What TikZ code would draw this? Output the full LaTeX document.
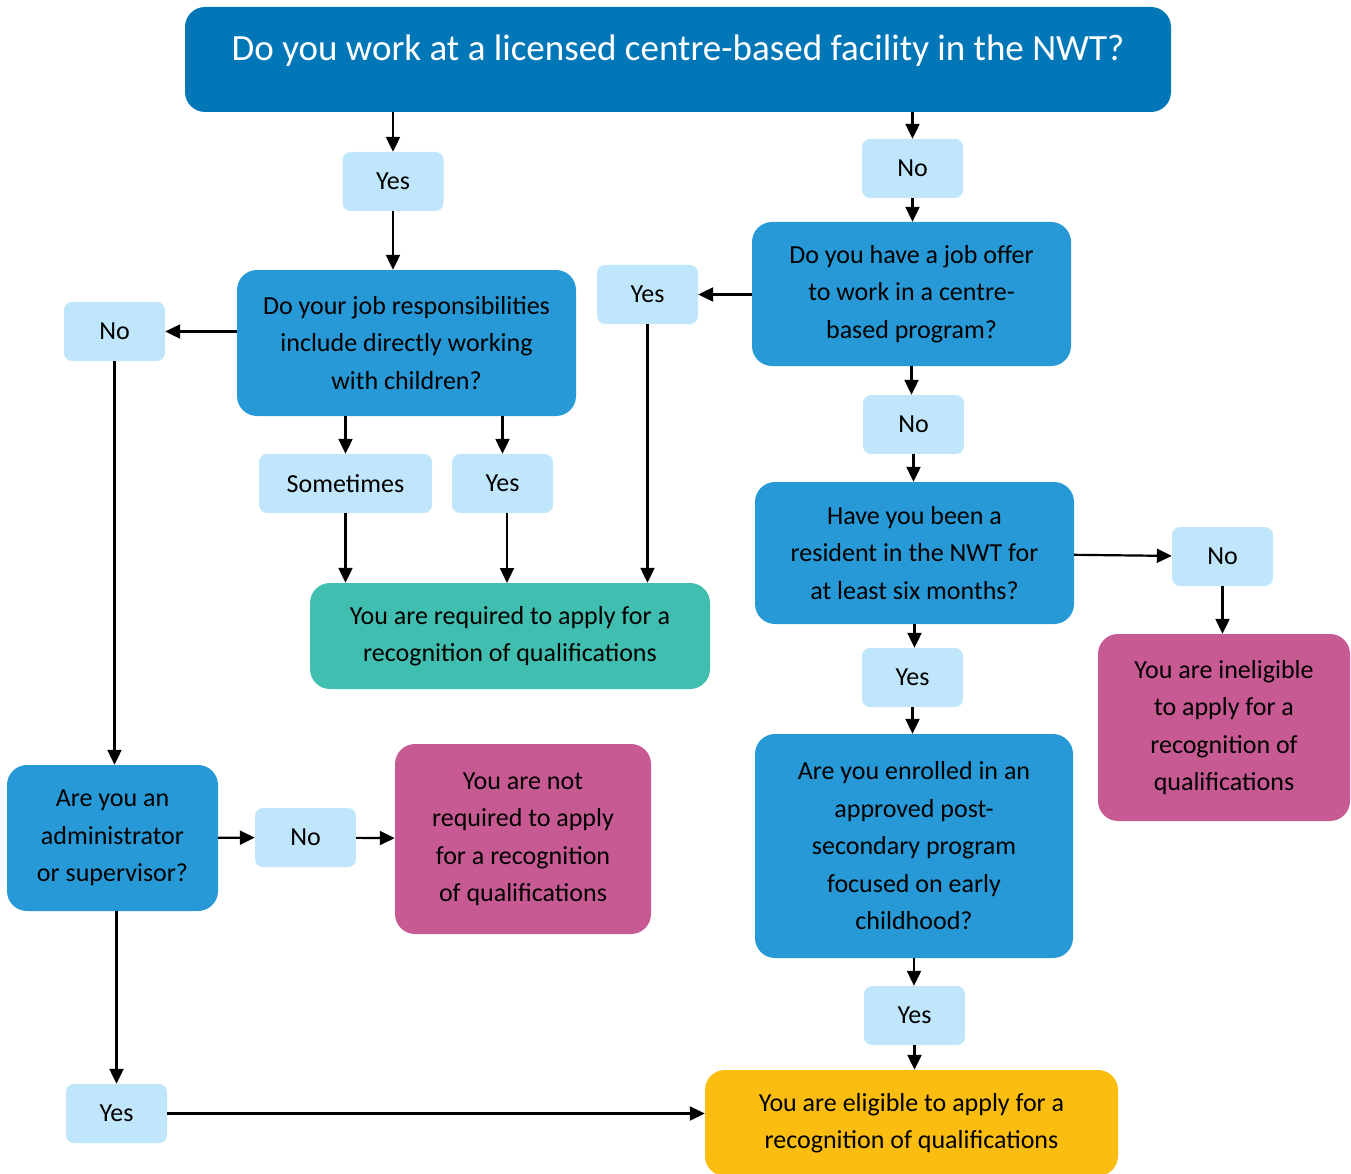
\documentclass[tikz,border=0pt]{standalone}
\usepackage{fontspec}
\setmainfont{Carlito}
\usetikzlibrary{arrows.meta}

\definecolor{topblue}{HTML}{0277B8}
\definecolor{askblue}{HTML}{2699D6}
\definecolor{answerblue}{HTML}{C0E6FC}
\definecolor{mustgreen}{HTML}{40BFB0}
\definecolor{notpink}{HTML}{C75A93}
\definecolor{okyellow}{HTML}{FBBD10}

\begin{document}
\begin{tikzpicture}[x=1pt,y=-1pt,
    box/.style={rounded corners=20pt, inner sep=0pt, align=center,
      font=\fontsize{26}{37.5}\selectfont},
    question/.style={box, fill=askblue},
    answer/.style={box, fill=answerblue, rounded corners=8pt,
      minimum width=101pt, minimum height=59pt}]

        \useasboundingbox (0,0) rectangle (1351,1174);

        % questions
        \node[box, fill=topblue, text=white, minimum width=986pt, minimum height=105pt,
          font=\fontsize{37}{40}\selectfont, text height=22pt, text depth=19pt]
          (1) at (678,59.5) {Do you work at a licensed centre-based facility in the NWT?};
        \node[question, minimum width=339pt, minimum height=146pt] (4) at (406.5,343)
          {Do your job responsibilities\\include directly working\\with children?};
        \node[question, minimum width=319pt, minimum height=144pt] (7) at (911.5,294)
          {Do you have a job offer\\to work in a centre-\\based program?};
        \node[question, minimum width=319pt, minimum height=142pt] (12) at (914.5,553)
          {Have you been a\\resident in the NWT for\\at least six months?};
        \node[question, minimum width=318pt, minimum height=224pt] (19) at (914,846)
          {Are you enrolled in an\\approved post-\\secondary program\\focused on early\\childhood?};
        \node[question, minimum width=211pt, minimum height=146pt] (16) at (112.5,838)
          {Are you an\\administrator\\or supervisor?};

        % answers
        \begin{scope}[every node/.style={answer}]
          \node (2)  at (393,181.5)   {Yes};
          \node (3)  at (912.5,168.5) {No};
          \node (5)  at (114.5,331.5) {No};
          \node (6)  at (647.5,294.5) {Yes};
          \node (8)  at (913.5,424.5) {No};
          \node[minimum width=173pt] (9) at (345.5,483.5) {Sometimes};
          \node (10) at (502.5,483.5) {Yes};
          \node (13) at (1222.5,556.5) {No};
          \node (14) at (912.5,677.5) {Yes};
          \node (17) at (305.5,837.5) {No};
          \node (20) at (914.5,1015.5) {Yes};
          \node (22) at (116.5,1113.5) {Yes};
        \end{scope}

        % outcomes
        \node[box, fill=mustgreen, minimum width=400pt, minimum height=106pt] (11) at (510,636)
          {You are required to apply for a\\recognition of qualifications};
        \node[box, fill=notpink, minimum width=252pt, minimum height=187pt] (15) at (1224,727.5)
          {You are ineligible\\to apply for a\\recognition of\\qualifications};
        \node[box, fill=notpink, minimum width=256pt, minimum height=190pt] (18) at (523,839)
          {You are not\\required to apply\\for a recognition\\of qualifications};
        \node[box, fill=okyellow, minimum width=413pt, minimum height=106pt] (21) at (911.5,1123)
          {You are eligible to apply for a\\recognition of qualifications};

        \begin{scope}[every edge/.style={draw, line width=2.2pt, -{Triangle[length=15pt,width=14pt]}}]
          \path (1.south -| 2)   edge (2);
          \path (1.south -| 3)   edge (3);
          \path (2)              edge (2 |- 4.north);
          \path (3)              edge (3 |- 7.north);
          \path (4.west |- 5)    edge (5);
          \path (7.west |- 6)    edge (6);
          \path (4.south -| 9)   edge (9);
          \path (4.south -| 10)  edge (10);
          \path (9)              edge (9 |- 11.north);
          \path (10.south -| 507,0) edge (507,583);
          \path (6)              edge (6 |- 11.north);
          \path (7)              edge (7 |- 8.north);
          \path (8)              edge (8 |- 12.north);
          \path (12)             edge (13);
          \path (13)             edge (13 |- 15.north);
          \path (12)             edge (12 |- 14.north);
          \path (14)             edge (14 |- 19.north);
          \path (19)             edge (19 |- 20.north);
          \path (20)             edge (20 |- 21.north);
          \path (5)              edge (5 |- 16.north);
          \path (16)             edge (17);
          \path (17)             edge (18);
          \path (16.south -| 22) edge (22);
          \path (22)             edge (21.west |- 22);
        \end{scope}

      \end{tikzpicture}
\end{document}
